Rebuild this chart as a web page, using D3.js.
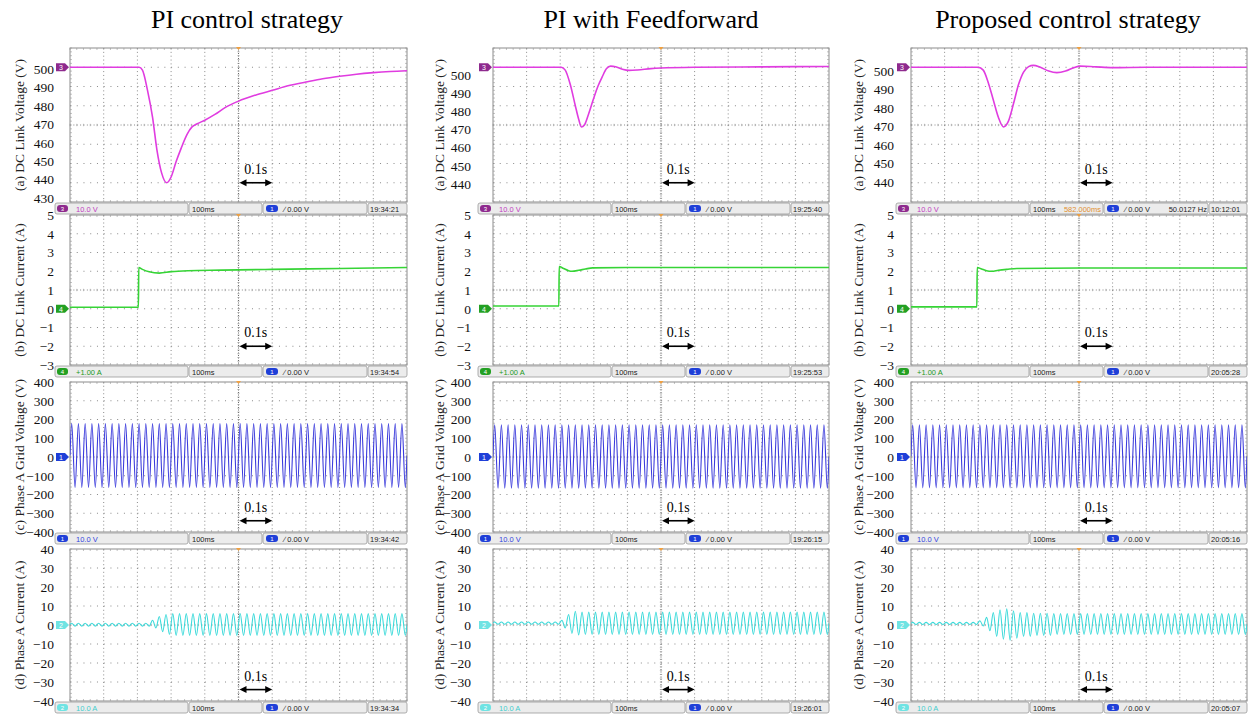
<!DOCTYPE html>
<html>
<head>
<meta charset="utf-8">
<script src="https://d3js.org/d3.v7.min.js"></script>
<style>
  body { margin: 0; background: #fff; }
  svg text { font-family: "Liberation Serif", "Times New Roman", serif; }
  svg .bar text { font-family: "Liberation Sans", Arial, sans-serif; font-size: 7.5px; }
</style>
</head>
<body>
<script>
  var W = 1251, H = 715;

  // ---- data ----
  var strategies = ["PI control strategy", "PI with Feedforward", "Proposed control strategy"];
  var rowTitles = ["(a) DC Link Voltage (V)", "(b) DC Link Current (A)",
                   "(c) Phase A Grid Voltage (V)", "(d) Phase A Current (A)"];
  var rowDomains = [[430, 510], [-3, 5], [-400, 400], [-40, 40]];
  var voltTicksPI = [430, 440, 450, 460, 470, 480, 490, 500];
  var voltTicks = [440, 450, 460, 470, 480, 490, 500];
  var currentTicks = [-3, -2, -1, 0, 1, 2, 3, 4, 5];
  var gridVoltTicks = [-400, -300, -200, -100, 0, 100, 200, 300, 400];
  var phaseCurTicks = [-40, -30, -20, -10, 0, 10, 20, 30, 40];

  var stamps = [["19:34:21", "19:34:54", "19:34:42", "19:34:34"],
                ["19:25:40", "19:25:53", "19:26:15", "19:26:01"],
                ["10:12:01", "20:05:28", "20:05:16", "20:05:07"]];
  var chNumbers = ["3", "4", "1", "2"];
  var chScales = ["10.0 V", "+1.00 A", "10.0 V", "10.0 A"];
  var chRefLevel = [500, 0, 0, 0];

  // time in ms, value
  var dcVoltPI = [[0,500],[205,500],[215,498.5],[230,488],[245,474],[258,457],[272,445],[287,440],
    [300,443],[315,451],[330,458],[347,465],[362,469],[376,470.5],[400,472.5],[430,475.5],[460,479],
    [500,482.4],[550,485.5],[600,488],[650,490.5],[700,492.3],[750,494],[800,495.3],[850,496.4],
    [900,497.2],[950,497.8],[1000,498.2]];
  var dcVoltFF = [[0,500],[203,500],[215,498.5],[230,491],[245,480],[255,473],[263,469],[272,470],
    [285,476],[298,483],[312,490],[325,495],[338,499.3],[350,500.6],[365,500.3],[385,499],[405,498.4],
    [430,498.6],[470,499.3],[500,499.6],[600,500],[800,500.2],[1000,500.4]];
  var dcVoltProp = [[0,500],[200,500],[215,498.5],[230,492],[245,483],[260,474],[275,469],[290,472],
    [305,481],[320,491],[335,497.5],[350,500.3],[364,501],[385,500],[410,498],[434,497.2],[460,498],
    [485,499.8],[503,500.6],[550,500.2],[600,499.8],[700,500],[1000,500]];

  var dcCurPI = [[0,0.08],[203,0.08],[204,2.2],[215,2.1],[235,1.97],[265,1.9],[300,1.98],[350,2.03],
    [450,2.06],[600,2.1],[800,2.15],[1000,2.2]];
  var dcCurFF = [[0,0.15],[196,0.15],[197,2.25],[210,2.15],[225,2.03],[235,2.0],[255,2.05],[275,2.12],
    [297,2.18],[400,2.2],[1000,2.2]];
  var dcCurProp = [[0,0.1],[196,0.1],[197,2.2],[210,2.12],[225,2.03],[240,2.0],[260,2.05],[285,2.1],
    [315,2.15],[500,2.17],[1000,2.17]];

  // 50 Hz waveforms: [from cycle, positive peak, negative peak]
  var gridPI = [[0, 178, -163]];
  var gridFF = [[0, 172, -167]];
  var gridProp = [[0, 172, -165]];
  var phasePI = [[0,0.9,-0.6],[12,2.5,-1.5],[13,4.5,-3.5],[14,5.5,-5],[15,6,-5.5]];
  var phaseFF = [[0,1.6,0.4],[10,2.5,-1.5],[11,5.5,-4.5],[12,7.2,-5.2],[13,6.8,-5]];
  var phaseProp = [[0,1.4,0.3],[10,2.2,-0.5],[11,4,-3],[12,6.5,-6],[13,8,-7.5],[14,8.5,-8],
    [15,7.5,-7],[16,6.5,-6],[18,6.2,-5.5],[21,6,-5]];

  var traces = [
    [dcVoltPI, dcCurPI, gridPI, phasePI],
    [dcVoltFF, dcCurFF, gridFF, phaseFF],
    [dcVoltProp, dcCurProp, gridProp, phaseProp]
  ];
  var ticksFor = [
    [voltTicksPI, currentTicks, gridVoltTicks, phaseCurTicks],
    [voltTicks, currentTicks, gridVoltTicks, phaseCurTicks],
    [voltTicks, currentTicks, gridVoltTicks, phaseCurTicks]
  ];

  // ---- layout ----
  var headerX = [247, 651, 1068];
  var colLeft = [70, 493, 911], colRight = [407, 829, 1247];
  var rowTop = [48, 215, 382, 549], rowBottom = [202, 365, 532, 701];
  var labelGap = [16, 22, 17], titleGap = [51, 54, 53];
  var voltLabelAnchor = [[69, 198], [75, 184], [71, 182]]; // y of first/last voltage label
  var arrowDivs = [1, 1, 0.6, 0.6];

  var traceColors = ["#e03ce0", "#36d436", "#3b3bdc", "#3cdada"];
  var tagColors = ["#8e2a8e", "#23a023", "#1f3fd8", "#6fe3e3"];
  var scaleColors = ["#c03cc0", "#239a23", "#3344dd", "#44cccc"];

  var svg = d3.select("body").append("svg").attr("width", W).attr("height", H);

  svg.selectAll(".head").data(strategies).enter().append("text")
    .attr("x", function (d, i) { return headerX[i]; })
    .attr("y", 28)
    .attr("text-anchor", "middle")
    .style("font-size", "26px")
    .text(function (d) { return d; });

  function wavePoints(keys) {
    var pts = [];
    for (var k = 0; k < 50; k++) {
      var key = keys[0];
      keys.forEach(function (kk) { if (kk[0] <= k) key = kk; });
      if (k == 0) pts.push([0, (key[1] + key[2]) / 2]);
      pts.push([(k + 0.25) * 20, key[1]]);
      pts.push([(k + 0.75) * 20, key[2]]);
    }
    pts.push([1000, (pts[pts.length - 1][1] + pts[pts.length - 2][1]) / 2]);
    return pts;
  }

  function drawPanel(c, r) {
    var bx0 = colLeft[c], bx1 = colRight[c], by0 = rowTop[r], by1 = rowBottom[r];
    var dom = rowDomains[r];
    var x = d3.scaleLinear().domain([0, 1000]).range([bx0, bx1]);
    var y = d3.scaleLinear().domain(dom).range([by1, by0]);
    var divX = (bx1 - bx0) / 10, divY = (by1 - by0) / 8;
    var g = svg.append("g");

    g.append("rect").attr("x", bx0).attr("y", by0)
      .attr("width", bx1 - bx0).attr("height", by1 - by0)
      .attr("fill", "#fff").attr("stroke", "#8c8c8c");

    // grid
    var xs = d3.range(1, 10).map(function (i) { return i * 100; });
    var ys = d3.range(1, 8).map(function (j) { return dom[0] + j * (dom[1] - dom[0]) / 8; });
    g.selectAll(".gv").data(xs).enter().append("line")
      .attr("x1", function (d) { return x(d); }).attr("x2", function (d) { return x(d); })
      .attr("y1", by0).attr("y2", by1)
      .attr("stroke", function (d) { return d == 500 ? "#666" : "#8a8a8a"; })
      .attr("stroke-dasharray", function (d) { return d == 500 ? "1,1.5" : "1," + (divY / 5 - 1); });
    g.selectAll(".gh").data(ys).enter().append("line")
      .attr("y1", function (d) { return y(d); }).attr("y2", function (d) { return y(d); })
      .attr("x1", bx0).attr("x2", bx1)
      .attr("stroke", "#8a8a8a")
      .attr("stroke-dasharray", function (d, j) { return j == 3 ? "1," + (divX / 10 - 1) : "1," + (divX / 5 - 1); });

    // minor ticks on edges and centre lines
    var minorX = d3.range(0, 1001, 20), minorY = d3.range(0, 41).map(function (j) { return dom[0] + j * (dom[1] - dom[0]) / 40; });
    g.selectAll(".tx").data(minorX).enter().append("path")
      .attr("d", function (d) {
        var px = x(d), cy = y((dom[0] + dom[1]) / 2);
        return "M" + px + "," + by0 + "v2M" + px + "," + (by1 - 2) + "v2M" + px + "," + (cy - 1.2) + "v2.4";
      })
      .attr("stroke", "#999").attr("stroke-width", 0.6);
    g.selectAll(".ty").data(minorY).enter().append("path")
      .attr("d", function (d) {
        var py = y(d), cx = x(500);
        return "M" + bx0 + "," + py + "h2M" + (bx1 - 2) + "," + py + "h2M" + (cx - 1.2) + "," + py + "h2.4";
      })
      .attr("stroke", "#999").attr("stroke-width", 0.6);

    // trace
    var clipId = "clip" + c + r;
    g.append("clipPath").attr("id", clipId).append("rect")
      .attr("x", bx0).attr("y", by0).attr("width", bx1 - bx0).attr("height", by1 - by0);
    var data = r < 2 ? traces[c][r] : wavePoints(traces[c][r]);
    var line = d3.line()
      .x(function (d) { return x(d[0]); })
      .y(function (d) { return y(d[1]); })
      .curve(d3.curveMonotoneX);
    g.append("path").datum(data)
      .attr("clip-path", "url(#" + clipId + ")")
      .attr("d", line)
      .attr("fill", "none")
      .attr("stroke", traceColors[r])
      .attr("stroke-width", r < 2 ? 1.6 : 1.1);

    // 0.1s arrow
    var ay = y(dom[0]) - arrowDivs[r] * divY;
    var ax0 = x(500) + 1, ax1 = x(600);
    g.append("line").attr("x1", ax0 + 4).attr("x2", ax1 - 4).attr("y1", ay).attr("y2", ay)
      .attr("stroke", "#000").attr("stroke-width", 1.6);
    g.append("path")
      .attr("d", "M" + ax0 + "," + ay + "l7,-3.5v7z M" + ax1 + "," + ay + "l-7,-3.5v7z")
      .attr("fill", "#000");
    g.append("text").attr("x", (ax0 + ax1) / 2).attr("y", ay - 9)
      .attr("text-anchor", "middle").style("font-size", "14px").text("0.1s");

    // trigger marker
    g.append("path").attr("d", "M" + (x(500) - 2.5) + "," + (by0 - 1) + "h5l-2.5,3z")
      .attr("fill", "#f0a040");

    // channel reference tag
    var ty = y(chRefLevel[r]);
    g.append("path")
      .attr("d", "M" + (bx0 - 14) + "," + (ty - 4) + "h9l4,4l-4,4h-9z")
      .attr("fill", tagColors[r]);
    g.append("text").attr("x", bx0 - 9).attr("y", ty + 3)
      .attr("text-anchor", "middle")
      .style("font-family", "Liberation Sans, Arial, sans-serif")
      .style("font-size", "7px").attr("fill", "#fff").text(chNumbers[r]);

    // y labels
    var labelScale = y;
    if (r == 0) {
      var tks = ticksFor[c][0];
      labelScale = d3.scaleLinear().domain([500, tks[0]]).range(voltLabelAnchor[c]);
    }
    var ax = g.append("g")
      .attr("transform", "translate(" + (bx0 - labelGap[c]) + ",0)")
      .call(d3.axisLeft(labelScale).tickValues(ticksFor[c][r]).tickSize(0).tickPadding(0)
        .tickFormat(d3.format("d")));
    ax.select(".domain").remove();
    ax.selectAll("text").attr("fill", "#111")
      .style("font-family", "Liberation Serif, Times New Roman, serif")
      .style("font-size", "13.5px");

    // rotated title
    g.append("text")
      .attr("transform", "translate(" + (bx0 - titleGap[c]) + "," + ((by0 + by1) / 2) + ") rotate(-90)")
      .attr("text-anchor", "middle").attr("dy", "0.35em")
      .style("font-size", "13.5px").attr("fill", "#222")
      .text(rowTitles[r]);

    // status bar
    var bar = g.append("g").attr("class", "bar");
    var sy = by1 + 1, sh = 11;
    var segs = [[-15, 118], [119, 192], [193, 297], [298, bx1 - bx0]];
    bar.selectAll("rect").data(segs).enter().append("rect")
      .attr("x", function (d) { return bx0 + d[0]; }).attr("y", sy)
      .attr("width", function (d) { return d[1] - d[0]; }).attr("height", sh)
      .attr("rx", 2).attr("fill", "#ececec").attr("stroke", "#9a9a9a").attr("stroke-width", 0.8);
    bar.append("rect").attr("x", bx0 - 13).attr("y", sy + 2).attr("width", 11).attr("height", 7)
      .attr("rx", 3).attr("fill", tagColors[r]);
    bar.append("text").attr("x", bx0 - 7.5).attr("y", sy + 8).attr("text-anchor", "middle")
      .attr("fill", "#fff").style("font-size", "6px").text(chNumbers[r]);
    bar.append("text").attr("x", bx0 + 6).attr("y", sy + 8.5)
      .attr("fill", scaleColors[r]).text(chScales[r]);
    bar.append("text").attr("x", bx0 + 122).attr("y", sy + 8.5).attr("fill", "#222").text("100ms");
    bar.append("rect").attr("x", bx0 + 196).attr("y", sy + 2).attr("width", 12).attr("height", 7)
      .attr("rx", 3).attr("fill", "#1f3fd8");
    bar.append("text").attr("x", bx0 + 202).attr("y", sy + 8).attr("text-anchor", "middle")
      .attr("fill", "#fff").style("font-size", "6px").text("1");
    bar.append("text").attr("x", bx0 + 214).attr("y", sy + 8.5).attr("fill", "#222").text("\u2215 0.00 V");
    bar.append("text").attr("x", bx0 + 300).attr("y", sy + 8.5).attr("fill", "#222").text(stamps[c][r]);
    if (c == 2 && r == 0) {
      bar.append("text").attr("x", bx0 + 190).attr("y", sy + 8.5).attr("text-anchor", "end")
        .attr("fill", "#e09030").text("582.000ms");
      bar.append("text").attr("x", bx0 + 296).attr("y", sy + 8.5).attr("text-anchor", "end")
        .attr("fill", "#222").text("50.0127 Hz");
    }
  }

  for (var c = 0; c < 3; c++) {
    for (var r = 0; r < 4; r++) {
      drawPanel(c, r);
    }
  }
</script>
</body>
</html>
